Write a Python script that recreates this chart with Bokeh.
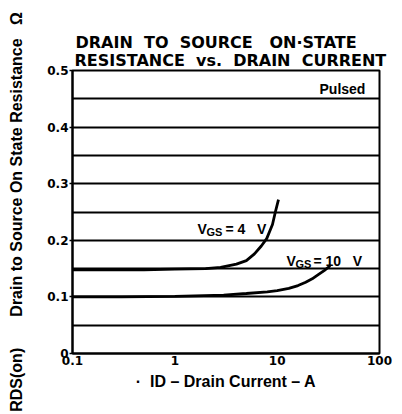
import math
from bokeh.plotting import figure
from bokeh.models import Range1d, FixedTicker, Label, Title
from bokeh.embed import file_html
from bokeh.resources import INLINE

NB = "\u00a0"

# ---- data ----
id_vgs4 = [0.1, 0.5, 1, 2, 2.8, 3.3, 4, 5, 6, 7, 7.9, 9, 9.6, 10.3]
rds_vgs4 = [0.148, 0.148, 0.149, 0.150, 0.152, 0.155, 0.158, 0.164, 0.176, 0.19, 0.203, 0.228, 0.25, 0.272]

id_vgs10 = [0.1, 0.3, 1, 3, 5, 8, 10, 13, 16, 19, 22, 25, 29, 33]
rds_vgs10 = [0.100, 0.100, 0.101, 0.103, 0.106, 0.109, 0.111, 0.115, 0.120, 0.126, 0.132, 0.139, 0.147, 0.155]

x_ticks = [0.1, 1, 10, 100]
x_tick_labels = {0.1: "0.1", 1: "1", 10: "10", 100: "100"}
y_ticks = [0, 0.1, 0.2, 0.3, 0.4, 0.5]
y_tick_labels = {0: "0", 0.1: "0.1", 0.2: "0.2", 0.3: "0.3", 0.4: "0.4", 0.5: "0.5"}
grid_lines = [0.05, 0.10, 0.15, 0.20, 0.25, 0.30, 0.35, 0.40, 0.45]

title_lines = ["DRAIN" + NB + " TO" + NB + " SOURCE" + NB * 2 + " ON·STATE",
               "RESISTANCE" + NB + " vs." + NB + " DRAIN" + NB + " CURRENT"]
y_label = "RDS(on)" + NB * 7 + "Drain to Source On State Resistance" + NB * 3 + "Ω"
x_label = "·" + NB + " ID – Drain Current – A"
vgs4_text = "= 4" + NB * 2 + " V"
vgs10_text = "= 10" + NB * 2 + " V"

p = figure(width=402, height=414, x_axis_type="log",
           x_range=Range1d(0.1, 100), y_range=Range1d(0, 0.5),
           output_backend="svg", toolbar_location=None, title=None)
p.min_border_left = 72
p.min_border_right = 23
p.min_border_top = 70
p.min_border_bottom = 61
p.background_fill_color = "white"
p.border_fill_color = "white"
p.outline_line_color = "black"
p.outline_line_width = 2

p.xgrid.visible = False
p.ygrid.ticker = FixedTicker(ticks=grid_lines)
p.ygrid.grid_line_color = "black"
p.ygrid.grid_line_width = 1.8

tick_font = "DejaVu Sans"
p.yaxis.ticker = FixedTicker(ticks=y_ticks)
p.yaxis.major_label_overrides = y_tick_labels
p.yaxis.major_tick_out = 3
p.yaxis.major_tick_in = 0
p.yaxis.minor_tick_line_color = None
p.yaxis.major_label_standoff = 1
p.yaxis.axis_line_width = 2
p.yaxis.major_tick_line_width = 1.5
p.yaxis.major_label_text_font = tick_font
p.yaxis.major_label_text_font_style = "bold"
p.yaxis.major_label_text_font_size = "12px"
p.yaxis.major_label_text_color = "black"
p.yaxis.axis_label = y_label
p.yaxis.axis_label_text_font = "Liberation Sans"
p.yaxis.axis_label_text_font_style = "bold"
p.yaxis.axis_label_text_font_size = "16px"
p.yaxis.axis_label_text_color = "black"
p.yaxis.axis_label_standoff = 19

p.xaxis.ticker = FixedTicker(ticks=x_ticks)
p.xaxis.major_label_overrides = x_tick_labels
p.xaxis.major_tick_out = 0
p.xaxis.major_tick_in = 0
p.xaxis.minor_tick_line_color = None
p.xaxis.major_label_standoff = 2
p.xaxis.axis_line_width = 2
p.xaxis.major_label_text_font = tick_font
p.xaxis.major_label_text_font_style = "bold"
p.xaxis.major_label_text_font_size = "12px"
p.xaxis.major_label_text_color = "black"
p.xaxis.axis_label = x_label
p.xaxis.axis_label_text_font = "Liberation Sans"
p.xaxis.axis_label_text_font_style = "bold"
p.xaxis.axis_label_text_font_size = "16px"
p.xaxis.axis_label_text_color = "black"
p.xaxis.axis_label_standoff = 5

# two-line title (second line added first: it sits nearest the frame)
p.add_layout(Title(text=title_lines[1], align="left", offset=2, standoff=2,
                   text_font="DejaVu Sans", text_font_style="bold",
                   text_font_size="16px", text_color="black"), "above")
p.add_layout(Title(text=title_lines[0], align="left", offset=3, standoff=-9,
                   text_font="DejaVu Sans", text_font_style="bold",
                   text_font_size="16px", text_color="black"), "above")

p.line(id_vgs4, rds_vgs4, line_color="black", line_width=2.8)
p.line(id_vgs10, rds_vgs10, line_color="black", line_width=2.8)

def lab(text, x, y, size, font="Liberation Sans", style="bold"):
    p.add_layout(Label(text=text, x=x, y=y, x_units="screen", y_units="screen",
                       text_font=font, text_font_style=style, text_font_size=f"{size}px",
                       text_color="black", text_align="left", text_baseline="alphabetic"))

# in-plot annotations
lab("Pulsed", 247, 265, 14)
lab("V", 125, 125, 14)
lab("GS", 134, 122, 11)
lab(vgs4_text, 153, 125, 14)
lab("V", 214, 93, 14)
lab("GS", 223, 90, 11)
lab(vgs10_text, 241, 93, 14)

open("out.html", "w").write(file_html(p, INLINE))
